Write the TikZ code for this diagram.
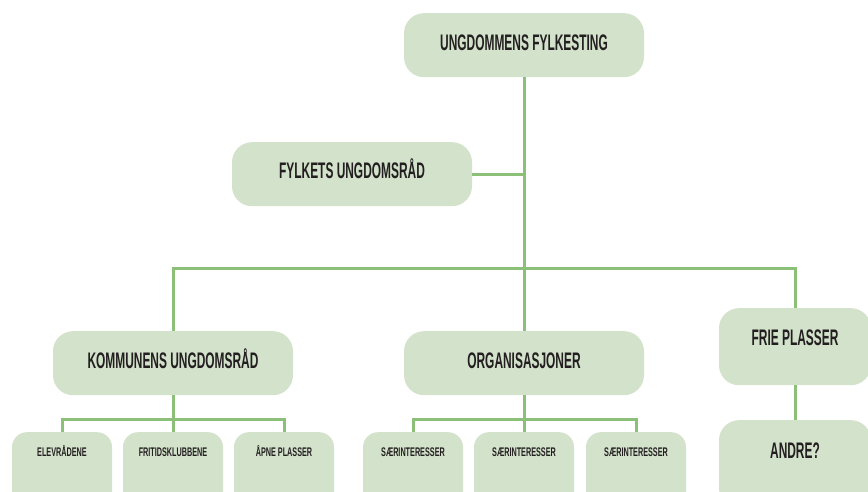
\documentclass[tikz,border=0pt]{standalone}
\usepackage{fontspec}
\newfontfamily\orgfont[FakeStretch=0.53]{Liberation Sans}
\newfontfamily\smallorgfont[FakeStretch=0.58]{Liberation Sans}
\definecolor{boxgreen}{HTML}{D3E2CB}
\definecolor{linegreen}{HTML}{8CBF78}
\definecolor{inkgrey}{HTML}{231F20}
\tikzstyle{box}=[anchor=north, fill=boxgreen, text=inkgrey, inner xsep=0pt, inner ysep=0pt]
\tikzstyle{bigbox}=[box, rounded corners=20pt, minimum width=240pt, text height=37pt, text depth=27pt, font=\orgfont\bfseries\fontsize{22.5}{22.5}\selectfont]
\tikzstyle{sidebox}=[box, rounded corners=20pt, minimum width=152pt, font=\orgfont\bfseries\fontsize{22.5}{22.5}\selectfont]
\tikzstyle{smallbox}=[box, rounded corners=15pt, minimum width=100pt, text height=24pt, text depth=60pt, font=\smallorgfont\bfseries\fontsize{12.5}{12.5}\selectfont]
\tikzstyle{link}=[draw=linegreen, line width=3pt]

\begin{document}
\begin{tikzpicture}[x=1pt, y=-1pt]
\useasboundingbox (0,0) rectangle (868,492);
\clip (0,0) rectangle (868,492);
% Top levels
    \node[bigbox] (fylkesting) at (524,13) {UNGDOMMENS FYLKESTING};
    \node[bigbox, text height=36pt, text depth=28pt] (fylkesraad) at (352,142) {FYLKETS UNGDOMSRÅD};
% Middle row
    \node[bigbox] (kommune) at (173,331) {KOMMUNENS UNGDOMSRÅD};
    \node[bigbox] (organisasjon) at (524,331) {ORGANISASJONER};
    \node[sidebox, text height=37pt, text depth=40pt] (frie) at (795,308) {FRIE PLASSER};
    \node[sidebox, text height=38pt, text depth=50pt] (andre) at (795,420) {ANDRE?};
% Bottom row
    \node[smallbox] (elev) at (62,432) {ELEVRÅDENE};
    \node[smallbox] (fritid) at (173,432) {FRITIDSKLUBBENE};
    \node[smallbox] (aapne) at (284,432) {ÅPNE PLASSER};
    \node[smallbox] (saer1) at (413,432) {SÆRINTERESSER};
    \node[smallbox] (saer2) at (524,432) {SÆRINTERESSER};
    \node[smallbox] (saer3) at (636,432) {SÆRINTERESSER};
% Bus lines
    \coordinate (bus) at (0,268);
    \coordinate (subbus) at (0,419);
% Connectors
    \draw[link] (fylkesting.south) -- (organisasjon.north);
    \draw[link] (fylkesting.south |- fylkesraad.east) -- (fylkesraad.east);
    \draw[link] (kommune.north) -- (kommune.north |- bus) -- (frie.north |- bus) -- (frie.north);
    \draw[link] (frie.south) -- (andre.north);
    \draw[link] (kommune.south) -- (fritid.north);
    \draw[link] (elev.north) -- (elev.north |- subbus) -- (aapne.north |- subbus) -- (aapne.north);
    \draw[link] (organisasjon.south) -- (saer2.north);
    \draw[link] (saer1.north) -- (saer1.north |- subbus) -- (saer3.north |- subbus) -- (saer3.north);
\end{tikzpicture}
\end{document}
